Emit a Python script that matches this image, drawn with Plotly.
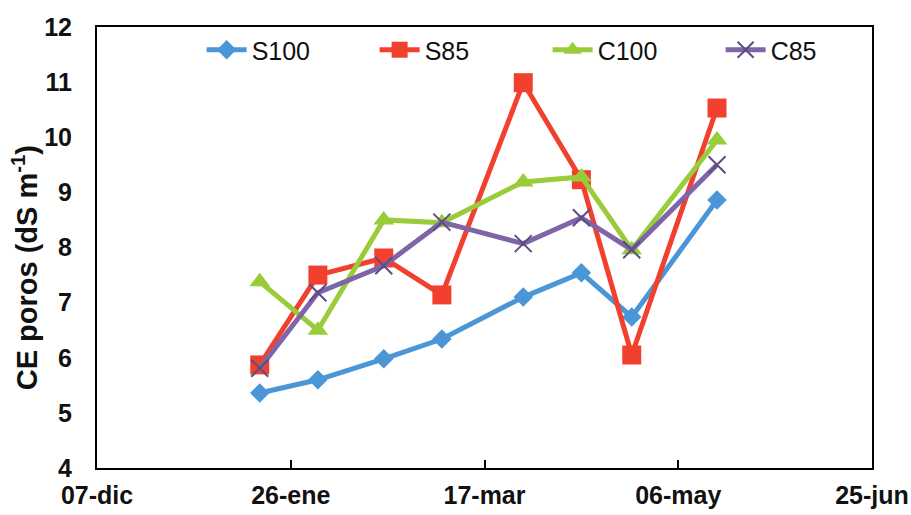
import plotly.graph_objects as go

# Sampling dates (season 2010-2011)
fechas = ["2011-01-18", "2011-02-02", "2011-02-19", "2011-03-06",
          "2011-03-27", "2011-04-11", "2011-04-24", "2011-05-16"]

# Pore-water electrical conductivity (dS m-1) per treatment
s100 = [5.36, 5.60, 5.98, 6.34, 7.10, 7.54, 6.74, 8.86]
s85 = [5.87, 7.50, 7.81, 7.14, 10.99, 9.23, 6.05, 10.53]
c100 = [7.38, 6.50, 8.50, 8.45, 9.19, 9.28, 7.96, 9.95]
c85 = [5.81, 7.18, 7.67, 8.46, 8.07, 8.54, 7.96, 9.50]

# Axis ticks
x_tickvals = ["2010-12-07", "2011-01-26", "2011-03-17", "2011-05-06", "2011-06-25"]
x_ticktext = ["07-dic", "26-ene", "17-mar", "06-may", "25-jun"]
y_tickvals = [4, 5, 6, 7, 8, 9, 10, 11, 12]

FONT = "Liberation Sans, Arial, sans-serif"

fig = go.Figure()
fig.add_trace(go.Scatter(
    x=fechas, y=s100, name="S100", mode="lines+markers",
    line=dict(color="#4A96D6", width=5),
    marker=dict(symbol="diamond", size=15, color="#4A96D6"),
))
fig.add_trace(go.Scatter(
    x=fechas, y=s85, name="S85", mode="lines+markers",
    line=dict(color="#F2402E", width=5),
    marker=dict(symbol="square", size=19, color="#F2402E"),
))
fig.add_trace(go.Scatter(
    x=fechas, y=c100, name="C100", mode="lines+markers",
    line=dict(color="#98CC3A", width=5),
    marker=dict(symbol="triangle-up", size=18, color="#98CC3A"),
))
fig.add_trace(go.Scatter(
    x=fechas, y=c85, name="C85", mode="lines+markers",
    line=dict(color="#8064A8", width=5),
    marker=dict(symbol="x-thin", size=17, color="#5E4C80",
                line=dict(color="#5E4C80", width=2)),
))

# Vertical y-axis title, placed slightly below the plot's mid-height
fig.add_annotation(
    text="<b>CE poros (dS m<sup>-1</sup>)</b>",
    xref="paper", yref="paper", x=-0.093, y=0.455,
    xanchor="center", yanchor="middle", textangle=-90, showarrow=False,
    font=dict(family=FONT, size=29, color="#111111"),
)

fig.update_layout(
    width=911, height=515,
    margin=dict(l=97, r=39, t=27, b=47),
    paper_bgcolor="white", plot_bgcolor="white",
    font=dict(family=FONT, size=24, color="#111111"),
    showlegend=True,
    legend=dict(
        orientation="h", x=0.135, y=1.0, xanchor="left", yanchor="top",
        bgcolor="rgba(0,0,0,0)", entrywidth=118,
        font=dict(family=FONT, size=25, color="#111111"),
        itemwidth=40,
    ),
    xaxis=dict(
        type="date", range=["2010-12-07", "2011-06-25"],
        tickvals=x_tickvals, ticktext=x_ticktext,
        tickfont=dict(family=FONT, size=25, color="#111111", weight="bold"),
        ticks="inside", ticklen=8, tickwidth=2, tickcolor="black",
        showgrid=False, zeroline=False, automargin=False,
        showline=True, linecolor="black", linewidth=2, mirror=True,
        ticklabelstandoff=4,
    ),
    yaxis=dict(
        range=[4, 12], tickvals=y_tickvals,
        tickfont=dict(family=FONT, size=25, color="#111111", weight="bold"),
        ticks="", showgrid=False, zeroline=False, automargin=False,
        showline=True, linecolor="black", linewidth=2, mirror=True,
        ticklabelstandoff=18,
    ),
)

fig.write_html("out.html")
